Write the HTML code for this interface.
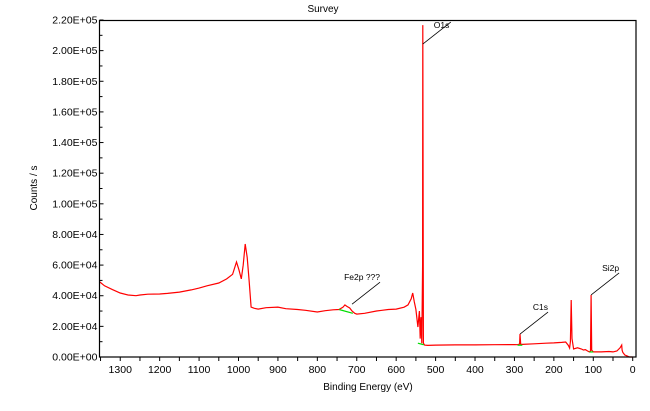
<!DOCTYPE html>
<html><head><meta charset="utf-8"><style>
body{margin:0;background:#fff;}
svg{display:block;font-family:"Liberation Sans",Arial,sans-serif;}
</style></head><body>
<svg id="chart" width="650" height="411" viewBox="0 0 650 411">
<text x="323" y="12" font-size="10" text-anchor="middle">Survey</text>
<text transform="translate(37,188) rotate(-90)" font-size="10" text-anchor="middle">Counts / s</text>
<text x="368" y="390" font-size="10" text-anchor="middle">Binding Energy (eV)</text>
<g id="axes"></g>
<g id="marks"></g>
<rect x="99.5" y="20.5" width="536.5" height="336.5" fill="none" stroke="#000" stroke-width="1.2"/>
</svg>
<script>
const energies=[1352,1340,1320,1300,1280,1260,1250,1230,1200,1180,1150,1120,1100,1080,1050,1030,1015,1005,999,993,988,983,978,973,968,960,950,930,900,880,850,830,800,780,760,745,735,730,725,718,712,705,700,680,650,620,600,580,570,562,558,554,550,545,541,539,537,535,533,532.5,531,528,520,500,450,400,350,300,292,287,285.8,284,280,250,220,200,180,170,163,160,158,156,154,150,140,130,125,120,115,110,107,105.5,104,100,90,80,60,50,40,32,28,27,25,20,15,8,0,-8];
const counts=[49000,46500,44000,41800,40500,40000,40500,41000,41100,41500,42400,43800,45000,46500,48300,51000,54000,62000,57000,51000,60000,73800,65000,50000,32600,31800,31300,32200,32600,31500,31000,30500,29400,30200,30800,31000,32500,34000,33000,32000,30000,28500,28000,28500,30000,31000,31300,32500,34000,38000,41800,36000,31000,19600,30000,12000,26000,9000,60000,216700,9000,7800,7600,7800,7900,7900,8000,8100,8000,8500,15000,8300,8200,8600,9000,9200,9500,9800,7500,5900,10000,37200,12000,5200,6000,5200,4600,4800,4000,3300,4000,40500,4500,3300,3300,3300,3600,3300,3900,6000,7800,4500,3000,1300,800,0,0];
const bgSegments=[[745,31000,710,28500],[545,9000,530,8000],[292,7700,280,7700],[110,3300,100,3300]];
const peakLabels=["O1s","Fe2p ???","C1s","Si2p"];
const peakEnergies=[532.5,712,285.8,105.5];
const peakCounts=[204300,34500,15000,40500];
const yTickValues=[0,20000,40000,60000,80000,100000,120000,140000,160000,180000,200000,220000];
const yTickLabels=["0.00E+00","2.00E+04","4.00E+04","6.00E+04","8.00E+04","1.00E+05","1.20E+05","1.40E+05","1.60E+05","1.80E+05","2.00E+05","2.20E+05"];
const xTickValues=[1300,1200,1100,1000,900,800,700,600,500,400,300,200,100,0];

const NS="http://www.w3.org/2000/svg";
const X0=99.5,X1=636,Y0=357,Y1=20;
function xs(e){return 632.7-e*0.3942;}
function ys(c){return Y0-c/220000*(Y0-Y1);}
function mk(tag,attrs,parent){const el=document.createElementNS(NS,tag);for(const k in attrs)el.setAttribute(k,attrs[k]);parent.appendChild(el);return el;}
const axes=document.getElementById('axes'),marks=document.getElementById('marks');

yTickValues.forEach((v,i)=>{
  const y=ys(v);
  const t=mk('line',{x1:X0,x2:X0+4,y1:y,y2:y,stroke:'#000'},axes);
  
  
  const lb=mk('text',{x:X0-2,y:y+3.5,'font-size':'10.5','text-anchor':'end'},axes);
  lb.textContent=yTickLabels[i];
  
  
  if(i<yTickValues.length-1){
    const ym=ys(v+10000);
    const m=mk('line',{x1:X0,x2:X0+3,y1:ym,y2:ym,stroke:'#000'},axes);
    
    
  }
});
for(let e=1350;e>=0;e-=50){
  const x=xs(e);
  const t=mk('line',{x1:x,x2:x,y1:Y0,y2:Y0+4,stroke:'#000'},axes);
  
  
}
xTickValues.forEach(v=>{
  const lb=mk('text',{x:xs(v),y:Y0+16,'font-size':'10.5','text-anchor':'middle'},axes);
  lb.textContent=String(v);
  
  
});

const pts=energies.map((e,i)=>xs(e).toFixed(1)+','+ys(counts[i]).toFixed(1)).join(' ');
const line=mk('polyline',{points:pts,fill:'none',stroke:'#ff0000','stroke-width':'1.2'},marks);



bgSegments.forEach(s=>{
  const b=mk('line',{x1:xs(s[0]),y1:ys(s[1]),x2:xs(s[2]),y2:ys(s[3]),stroke:'#00dd00','stroke-width':'1.2'},marks);
  
  
});

peakLabels.forEach((name,i)=>{
  const x=xs(peakEnergies[i]),y=ys(peakCounts[i]);
  const l=mk('line',{x1:x,y1:y,x2:x+28,y2:y-22,stroke:'#000','stroke-width':'0.8'},marks);
  
  
  const above=y-24>Y1+10;
  const t=mk('text',{x:above?x+28:x+11,y:above?y-24:y-16,'font-size':'8.5','text-anchor':above?'end':'start'},marks);
  t.textContent=name;
  
  
});
</script>
</body></html>
